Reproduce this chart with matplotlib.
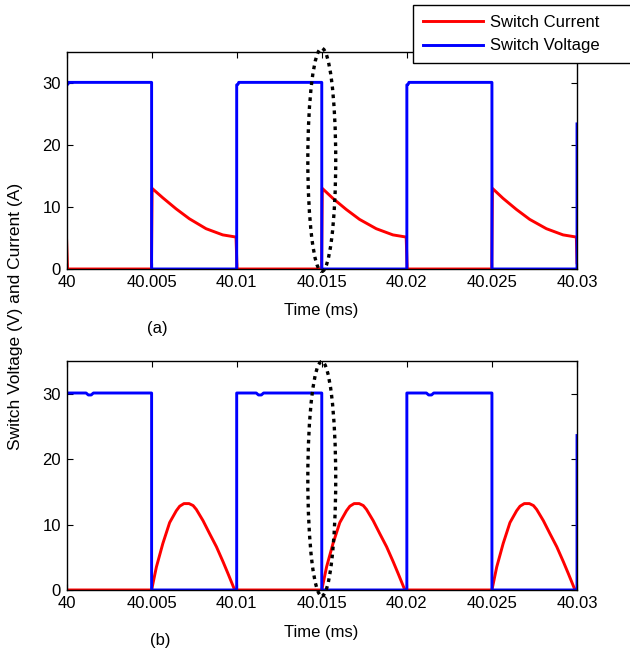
import matplotlib
matplotlib.use('Agg')
import matplotlib.pyplot as plt
from matplotlib.patches import Ellipse

plt.rcParams['font.family'] = ['Liberation Sans', 'DejaVu Sans']
plt.rcParams['font.size'] = 12

# x axis ticks (time in ms)
x_ticks = [40.0, 40.005, 40.01, 40.015, 40.02, 40.025, 40.03]
x_tick_labels = ['40', '40.005', '40.01', '40.015', '40.02', '40.025', '40.03']
y_ticks = [0, 10, 20, 30]

# (a) switch voltage
t_volt_a = [40.0, 40.0, 40.00008, 40.00012, 40.005, 40.005,
            40.01, 40.01, 40.01008, 40.01012, 40.015, 40.015,
            40.02, 40.02, 40.02008, 40.02012, 40.025, 40.025,
            40.03, 40.03]
volt_a = [0.0, 29.7, 29.8, 30.1, 30.1, 0.0,
          0.0, 29.7, 29.8, 30.1, 30.1, 0.0,
          0.0, 29.7, 29.8, 30.1, 30.1, 0.0,
          0.0, 23.4]

# (a) switch current - jumps up when the switch turns off, then decays
t_curr_a = [40.0, 40.00006, 40.00499, 40.00503, 40.00565, 40.00644, 40.00722, 40.0082, 40.00918, 40.00996, 40.01002,
            40.01499, 40.01503, 40.01565, 40.01644, 40.01722, 40.0182, 40.01918, 40.01996, 40.02002,
            40.02499, 40.02503, 40.02565, 40.02644, 40.02722, 40.0282, 40.02918, 40.02996, 40.03]
curr_a = [5.1, 0.0, 0.0, 13.0, 11.5, 9.7, 8.1, 6.5, 5.5, 5.15, 0.0,
          0.0, 13.0, 11.4, 9.6, 8.0, 6.5, 5.5, 5.15, 0.0,
          0.0, 13.0, 11.4, 9.6, 8.0, 6.5, 5.5, 5.15, 1.0]

# (b) switch voltage - small dip early in every on-interval
t_volt_b = [40.0, 40.0, 40.00115, 40.00128, 40.00145, 40.00158, 40.005, 40.005,
            40.01, 40.01, 40.01115, 40.01128, 40.01145, 40.01158, 40.015, 40.015,
            40.02, 40.02, 40.02115, 40.02128, 40.02145, 40.02158, 40.025, 40.025,
            40.03, 40.03]
volt_b = [0.0, 30.1, 30.1, 29.8, 29.8, 30.1, 30.1, 0.0,
          0.0, 30.1, 30.1, 29.8, 29.8, 30.1, 30.1, 0.0,
          0.0, 30.1, 30.1, 29.8, 29.8, 30.1, 30.1, 0.0,
          0.0, 23.6]

# (b) switch current - half-sine pulses
t_curr_b = [40.0, 40.005, 40.00508, 40.00528, 40.00566, 40.00606, 40.00645, 40.00665, 40.0069, 40.0072,
            40.00744, 40.00763, 40.00802, 40.00841, 40.00881, 40.0092, 40.00949, 40.00985, 40.01,
            40.015, 40.01508, 40.01528, 40.01566, 40.01606, 40.01645, 40.01665, 40.0169, 40.0172,
            40.01744, 40.01763, 40.01802, 40.01841, 40.01881, 40.0192, 40.01949, 40.01985, 40.02,
            40.025, 40.02508, 40.02528, 40.02566, 40.02606, 40.02645, 40.02665, 40.0269, 40.0272,
            40.02744, 40.02763, 40.02802, 40.02841, 40.02881, 40.0292, 40.02949, 40.02985, 40.03]
curr_b = [0.0, 0.0, 1.0, 3.5, 7.1, 10.3, 12.1, 12.8, 13.2, 13.2,
          12.9, 12.3, 10.6, 8.6, 6.6, 4.3, 2.5, 0.2, 0.0,
          0.0, 1.0, 3.5, 7.1, 10.3, 12.1, 12.8, 13.2, 13.2,
          12.9, 12.3, 10.6, 8.6, 6.6, 4.3, 2.5, 0.2, 0.0,
          0.0, 1.0, 3.5, 7.1, 10.3, 12.1, 12.8, 13.2, 13.2,
          12.9, 12.3, 10.6, 8.6, 6.6, 4.3, 2.5, 0.2, 0.0]

fig = plt.figure(figsize=(6.3, 6.54), dpi=100)
ax1 = fig.add_axes([0.1056, 0.5887, 0.8103, 0.3318])
ax2 = fig.add_axes([0.1056, 0.0979, 0.8103, 0.3502])

panels = [(ax1, t_curr_a, curr_a, t_volt_a, volt_a, 17.6, 36.0),
          (ax2, t_curr_b, curr_b, t_volt_b, volt_b, 17.0, 35.8)]

for ax, tc, c, tv, v, ell_y, ell_h in panels:
    ax.plot(tc, c, color='#ff0000', lw=2.1, label='Switch Current')
    ax.plot(tv, v, color='#0000ff', lw=2.1, label='Switch Voltage')
    ax.set_xlim(40.0, 40.03)
    ax.set_ylim(0, 35)
    ax.set_xticks(x_ticks)
    ax.set_xticklabels(x_tick_labels)
    ax.set_yticks(y_ticks)
    ax.tick_params(direction='in', top=True, right=True, length=4, width=0.8,
                   labelsize=12, pad=4)
    for s in ax.spines.values():
        s.set_linewidth(1)
    # dotted ellipse marking the turn-off instant
    ell = Ellipse((40.015, ell_y), 0.00164, ell_h, fill=False, edgecolor='black',
                  lw=2.4, linestyle=(0, (1.1, 1.3)), clip_on=False, zorder=5)
    ax.add_patch(ell)

fig.text(0.5095, 0.5245, 'Time (ms)', ha='center', va='center', fontsize=12)
fig.text(0.249, 0.497, '(a)', ha='center', va='center', fontsize=12)
fig.text(0.5095, 0.0336, 'Time (ms)', ha='center', va='center', fontsize=12)
fig.text(0.254, 0.0199, '(b)', ha='center', va='center', fontsize=12)
fig.text(0.024, 0.516, 'Switch Voltage (V) and Current (A)', rotation=90,
         ha='center', va='center', fontsize=12.5)

handles, labels = ax1.get_legend_handles_labels()
leg = fig.legend(handles, labels, loc='upper left',
                 bbox_to_anchor=(413 / 630, 1 - 62 / 654, 240 / 630, 57 / 654),
                 mode='expand', fontsize=12, handlelength=3.6, handletextpad=0.45,
                 borderpad=0.6, labelspacing=0.5, borderaxespad=0,
                 fancybox=False, framealpha=1)
leg.get_frame().set_edgecolor('black')
leg.get_frame().set_linewidth(1)

fig.savefig('out.png', dpi=100)
